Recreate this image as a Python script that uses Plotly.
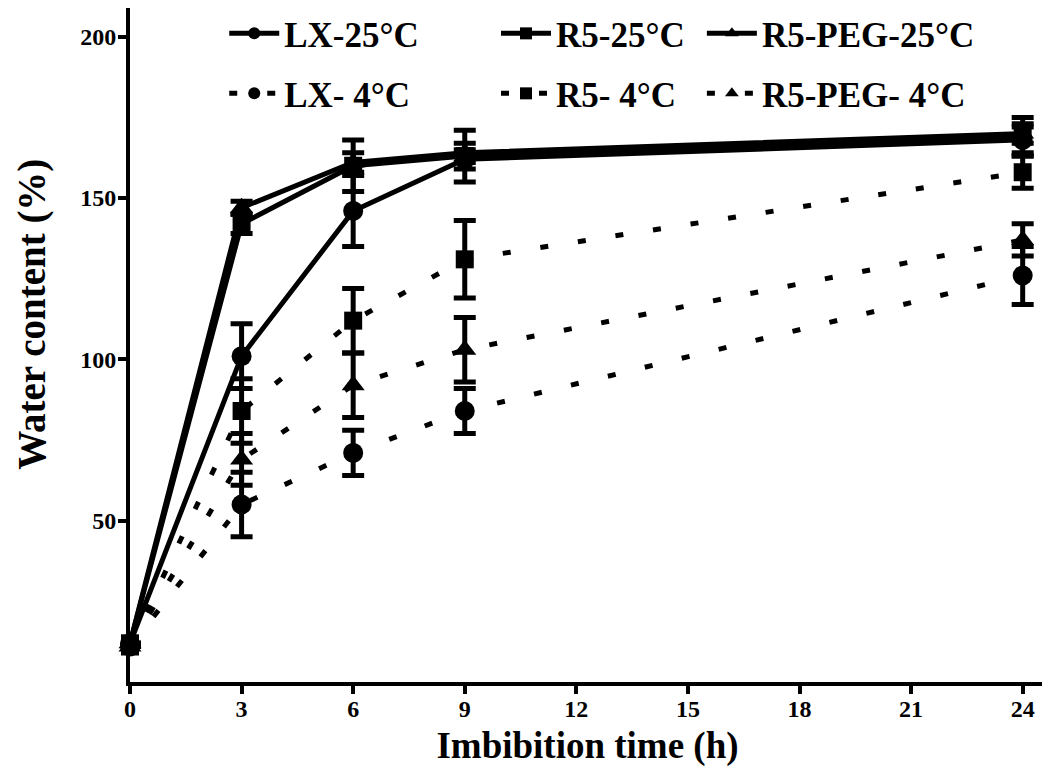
import plotly.graph_objects as go

time_h = [0, 3, 6, 9, 24]

series_names = ["LX-25°C", "R5-25°C", "R5-PEG-25°C", "LX- 4°C", "R5- 4°C", "R5-PEG- 4°C"]
lx_25 = [12, 101, 146, 162, 168]
lx_25_err = [0, 10, 11, 3, 4]
r5_25 = [12, 142, 160, 163, 169]
r5_25_err = [0, 3, 8, 8, 6]
peg_25 = [12, 147, 161, 164, 170]
peg_25_err = [0, 2, 3, 3, 3]
lx_4 = [11, 55, 71, 84, 126]
lx_4_err = [0, 10, 7, 7, 9]
r5_4 = [11, 84, 112, 131, 158]
r5_4_err = [0, 10, 10, 12, 5]
peg_4 = [11, 69, 92, 103, 137]
peg_4_err = [0, 8, 10, 10, 5]

x_ticks = [0, 3, 6, 9, 12, 15, 18, 21, 24]
y_ticks = [50, 100, 150, 200]

x_title = "Imbibition time (h)"
y_title = "Water content (%)"

values = [lx_25, r5_25, peg_25, lx_4, r5_4, peg_4]
errors = [lx_25_err, r5_25_err, peg_25_err, lx_4_err, r5_4_err, peg_4_err]
symbols = ["circle", "square", "triangle-up", "circle", "square", "triangle-up"]
marker_sizes = [20, 18, 20, 20, 18, 20]

FONT = "Liberation Serif, Times New Roman, serif"

# legend anchor positions (paper fraction of plot area), one legend per entry
legend_x = [0.103, 0.400, 0.625, 0.103, 0.400, 0.625]
legend_y = [0.962, 0.962, 0.962, 0.873, 0.873, 0.873]
legend_ids = ["legend", "legend2", "legend3", "legend4", "legend5", "legend6"]

fig = go.Figure()
for i, (name, v, e, s) in enumerate(zip(series_names, values, errors, symbols)):
    solid = i < 3
    fig.add_trace(go.Scatter(
        x=time_h, y=v, name=name,
        mode="lines+markers",
        line=dict(color="black", width=5,
                  dash="solid" if solid else "8px,30px"),
        marker=dict(symbol=s, size=marker_sizes[i], color="black"),
        error_y=dict(type="data", array=e, visible=True, color="black",
                     thickness=5, width=11),
        cliponaxis=False,
        legend=legend_ids[i],
    ))

legend_layout = {}
for lid, lx, ly in zip(legend_ids, legend_x, legend_y):
    legend_layout[lid] = dict(
        x=lx, y=ly, xanchor="left", yanchor="middle",
        orientation="h",
        font=dict(family=FONT, size=35, color="black", weight="bold"),
        bgcolor="rgba(0,0,0,0)", itemwidth=50, itemsizing="constant",
    )

fig.update_layout(
    width=1050, height=780,
    paper_bgcolor="white", plot_bgcolor="white",
    margin=dict(l=122, r=13, t=0, b=106, autoexpand=False),
    font=dict(family=FONT, color="black"),
    showlegend=True,
    xaxis=dict(
        range=[0, 24.6], tickvals=x_ticks, ticktext=[str(t) for t in x_ticks],
        showline=True, linecolor="black", linewidth=4,
        ticks="outside", ticklen=8, tickwidth=4, tickcolor="black",
        ticklabelstandoff=-6,
        showgrid=False, zeroline=False,
        tickfont=dict(family=FONT, size=24, color="black", weight="bold"),
        title=dict(text=x_title,
                   font=dict(family=FONT, size=37, color="black", weight="bold"),
                   standoff=12),
    ),
    yaxis=dict(
        range=[0, 208.9], tickvals=y_ticks,
        showline=True, linecolor="black", linewidth=4,
        ticks="outside", ticklen=8, tickwidth=4, tickcolor="black",
        ticklabelstandoff=-3,
        showgrid=False, zeroline=False,
        tickfont=dict(family=FONT, size=24, color="black", weight="bold"),
    ),
    annotations=[dict(
        text=y_title, textangle=-90, showarrow=False,
        xref="paper", yref="paper", x=-0.108, y=0.545,
        xanchor="center", yanchor="middle",
        font=dict(family=FONT, size=39, color="black", weight="bold"),
    )],
    **legend_layout,
)

fig.write_html("out.html")
